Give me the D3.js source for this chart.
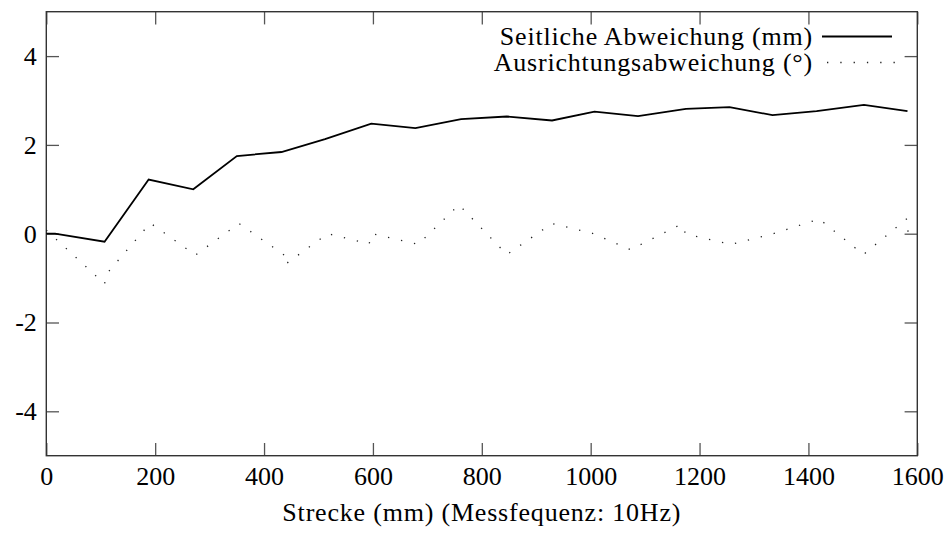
<!DOCTYPE html>
<html>
<head>
<meta charset="utf-8">
<script src="https://cdn.jsdelivr.net/npm/d3@7"></script>
<style>
  body { margin: 0; background: #fff; }
  text { font-family: "Liberation Serif", "Times New Roman", serif; fill: #000; }
</style>
</head>
<body>
<div class="canvas"></div>
<script>
// Seitliche Abweichung (mm)
const lateralX = [0, 16, 107, 188, 270, 350, 432, 512, 597, 678, 762, 846, 929, 1007, 1087, 1175, 1255, 1334, 1415, 1502, 1582];
const lateralY = [0, 0, -0.18, 1.22, 1.0, 1.75, 1.84, 2.13, 2.48, 2.38, 2.58, 2.64, 2.55, 2.75, 2.65, 2.81, 2.85, 2.67, 2.76, 2.9, 2.76];

// Ausrichtungsabweichung (°)
const headingX = [0, 107, 111, 191, 274, 354, 437, 439, 517, 593, 598, 683, 758, 846, 929, 1003, 1073, 1166, 1175, 1258, 1335, 1420, 1501, 1581, 1583];
const headingY = [0.08, -1.13, -0.9, 0.24, -0.48, 0.23, -0.48, -0.69, 0.0, -0.23, 0.0, -0.24, 0.65, -0.47, 0.23, 0.01, -0.36, 0.21, -0.01, -0.24, 0.0, 0.33, -0.47, 0.34, 0.03];

const seriesNames = ["Seitliche Abweichung (mm)", "Ausrichtungsabweichung (°)"];
const xTicks = [0, 200, 400, 600, 800, 1000, 1200, 1400, 1600];
const yTicks = [-4, -2, 0, 2, 4];
const xLabel = "Strecke (mm) (Messfequenz: 10Hz)";

const width = 945;
const height = 535;
const margin = { top: 11.7, right: 27.7, bottom: 79.3, left: 46.3 };
const graphWidth = width - margin.left - margin.right;
const graphHeight = height - margin.top - margin.bottom;

const svg = d3
  .select(".canvas")
  .append("svg")
  .attr("width", width)
  .attr("height", height);

const graph = svg
  .append("g")
  .attr("transform", `translate(${margin.left}, ${margin.top})`);

// scales
const x = d3.scaleLinear().domain([0, 1600]).range([0, graphWidth]);
const y = d3.scaleLinear().domain([-5, 5]).range([graphHeight, 0]);

const tickLen = 12.7;
const fmt = (d) => String(d);

// axes (ticks pointing inwards, mirrored on all four sides)
const styleAxis = (g) => {
  g.select(".domain").remove();
  g.selectAll(".tick line").attr("stroke", "#555").attr("stroke-width", 1.3);
  g.selectAll(".tick text")
    .style("font-family", '"Liberation Serif", serif')
    .style("font-size", "26px")
    .attr("fill", "#000");
};

graph
  .append("g")
  .attr("transform", `translate(0, ${graphHeight})`)
  .call(d3.axisBottom(x).tickValues(xTicks).tickFormat(fmt).tickSizeInner(-tickLen).tickSizeOuter(0).tickPadding(11))
  .call(styleAxis);

graph
  .append("g")
  .call(d3.axisTop(x).tickValues(xTicks).tickFormat("").tickSizeInner(-tickLen).tickSizeOuter(0))
  .call(styleAxis);

graph
  .append("g")
  .call(d3.axisLeft(y).tickValues(yTicks).tickFormat(fmt).tickSizeInner(-tickLen).tickSizeOuter(0).tickPadding(9.5))
  .call(styleAxis);

graph
  .append("g")
  .attr("transform", `translate(${graphWidth}, 0)`)
  .call(d3.axisRight(y).tickValues(yTicks).tickFormat("").tickSizeInner(-tickLen).tickSizeOuter(0))
  .call(styleAxis);

// frame
graph
  .append("rect")
  .attr("width", graphWidth)
  .attr("height", graphHeight)
  .attr("fill", "none")
  .attr("stroke", "#333")
  .attr("stroke-width", 1.4);

// line generator
const line = d3
  .line()
  .x((d) => x(d[0]))
  .y((d) => y(d[1]));

const lateral = lateralX.map((v, i) => [v, lateralY[i]]);
const heading = headingX.map((v, i) => [v, headingY[i]]);

graph
  .append("path")
  .datum(lateral)
  .attr("fill", "none")
  .attr("stroke", "#000")
  .attr("stroke-width", 1.8)
  .attr("d", line);

graph
  .append("path")
  .datum(heading)
  .attr("fill", "none")
  .attr("stroke", "#222")
  .attr("stroke-width", 1.3)
  .attr("stroke-dasharray", "1.3 12")
  .attr("d", line);

// legend
const legend = svg.append("g");
const legendTextX = 813;
const rowY = [36.5, 62.5];

legend
  .selectAll("text")
  .data(seriesNames)
  .enter()
  .append("text")
  .attr("x", legendTextX)
  .attr("y", (d, i) => rowY[i] + 8.3)
  .attr("text-anchor", "end")
  .style("font-size", "26px")
  .style("letter-spacing", "0.8px")
  .text((d) => d);

legend
  .append("line")
  .attr("x1", 822)
  .attr("x2", 892)
  .attr("y1", rowY[0])
  .attr("y2", rowY[0])
  .attr("stroke", "#000")
  .attr("stroke-width", 1.8);

legend
  .append("line")
  .attr("x1", 827)
  .attr("x2", 895)
  .attr("y1", rowY[1])
  .attr("y2", rowY[1])
  .attr("stroke", "#222")
  .attr("stroke-width", 1.3)
  .attr("stroke-dasharray", "1.3 12");

// x axis title
svg
  .append("text")
  .attr("x", margin.left + graphWidth / 2)
  .attr("y", margin.top + graphHeight + 65)
  .attr("text-anchor", "middle")
  .style("font-size", "26px")
  .style("letter-spacing", "0.8px")
  .text(xLabel);
</script>
</body>
</html>
